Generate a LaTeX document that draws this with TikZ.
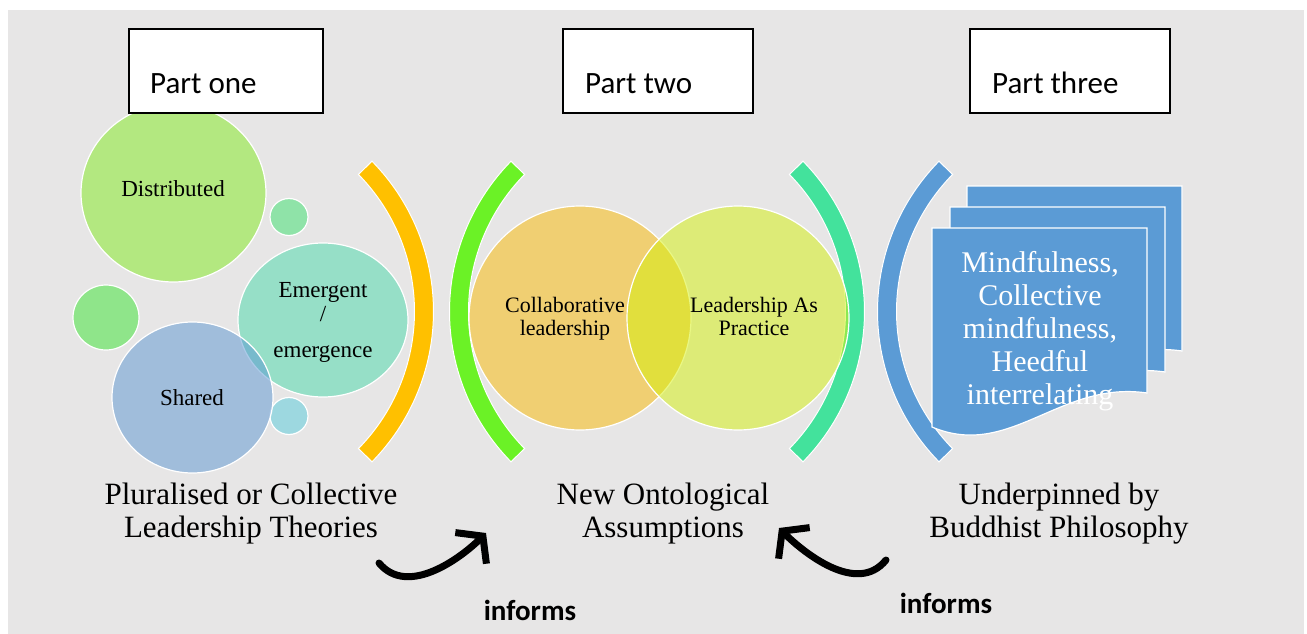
\documentclass[tikz,border=0pt]{standalone}
\usepackage{fontspec}
\setmainfont{Liberation Serif}
\newfontfamily\boxfont{Carlito}
\usetikzlibrary{shapes.geometric,arrows.meta}

\definecolor{canvasgray}{HTML}{E7E6E6}
\definecolor{distgreen}{HTML}{B3E880}
\definecolor{smallmint}{HTML}{8FE3A8}
\definecolor{smallgreen}{HTML}{8FE58A}
\definecolor{smallcyan}{HTML}{9DD8E0}
\definecolor{emergteal}{HTML}{46DAAA}
\definecolor{sharedblue}{HTML}{5A96D2}
\definecolor{collabamber}{HTML}{FABA00}
\definecolor{lapyellow}{HTML}{D4F00A}
\definecolor{arcyellow}{HTML}{FFC000}
\definecolor{arcgreen}{HTML}{6BF226}
\definecolor{arcteal}{HTML}{43E29C}
\definecolor{docblue}{HTML}{5B9BD5}

% a thick bracket-shaped arc: centre x, centre y, start angle, end angle, colour
\newcommand\bracearc[5]{%
  \filldraw[bracketarc,fill=#5]
    plot[domain=#3:#4,samples=60] ({#1+214.5*cos(\x)},{#2+214.5*sin(\x)})
    -- plot[domain=#4:#3,samples=60] ({#1+195.5*cos(\x)},{#2+195.5*sin(\x)})
    -- cycle;}

\begin{document}
\begin{tikzpicture}[x=1pt,y=-1pt,
  bubble/.style={ellipse,draw=white,line width=1.2pt,inner sep=0pt,outer sep=0pt},
  bracketarc/.style={draw=white,line width=1pt},
  docpage/.style={fill=docblue,draw=white,line width=1.2pt},
  partbox/.style={rectangle,draw=black,line width=1.4pt,fill=white,inner sep=0pt,
    minimum height=84pt},
  boxlabel/.style={anchor=base west,inner sep=0pt,font=\boxfont\fontsize{31}{37}\selectfont},
  bubbletext/.style={anchor=base,inner sep=0pt,font=\fontsize{23}{26}\selectfont},
  venntext/.style={align=center,inner sep=0pt,font=\fontsize{22}{23}\selectfont},
  caption/.style={align=center,inner sep=0pt,font=\fontsize{31}{33}\selectfont},
  doctext/.style={align=center,text=white,inner sep=0pt,font=\fontsize{30}{33}\selectfont},
  informs/.style={anchor=base,inner sep=0pt,font=\boxfont\bfseries\fontsize{29}{34}\selectfont},
  informarrow/.style={line width=7pt,line cap=round,-{Straight Barb[length=17pt,width=44pt]}}
]
\useasboundingbox (0,0) rectangle (1307,634);
\fill[white] (0,0) rectangle (1307,634);
\fill[canvasgray] (8,10) rectangle (1304,634);

% ---- part one: bubbles of collective leadership
\node[bubble,fill=distgreen,minimum width=185pt,minimum height=178pt] (dist) at (173.5,193) {};
\node[bubble,fill=smallmint,minimum width=38pt,minimum height=37pt] (dot1) at (289,217) {};
\node[bubble,fill=smallgreen,minimum width=66pt,minimum height=65pt] (dot2) at (106,317.5) {};
\node[bubble,fill=smallcyan,minimum width=38pt,minimum height=37pt] (dot3) at (289,416) {};
\node[bubble,fill=emergteal,fill opacity=0.5,minimum width=170pt,minimum height=154pt] (emerg) at (323,320) {};
\node[bubble,fill=sharedblue,fill opacity=0.5,minimum width=161pt,minimum height=151pt] (shared) at (192.5,397.5) {};

\node[bubbletext] (distlbl) at (173,196) {Distributed};
\node[bubbletext] (emerglbl) at (323,297) {Emergent};
\node[bubbletext] (slashlbl) at (323,321) {/};
\node[bubbletext] (emerglbl2) at (323,357) {emergence};
\node[bubbletext] (sharedlbl) at (192,405) {Shared};

% ---- brackets
\bracearc{219}{311.5}{-44.5}{44.5}{arcyellow}
\bracearc{664}{311.5}{135.5}{224.5}{arcgreen}
\bracearc{650}{311.5}{-44.5}{44.5}{arcteal}
\bracearc{1092}{311.5}{135.5}{224.5}{docblue}

% ---- part two: Venn pair
\node[bubble,fill=collabamber,fill opacity=0.5,minimum width=222pt,minimum height=224pt] (collab) at (580,318) {};
\node[bubble,fill=lapyellow,fill opacity=0.5,minimum width=222pt,minimum height=224pt] (lap) at (738,318) {};
\node[venntext] (collablbl) at (565,319) {Collaborative\\leadership};
\node[venntext] (laplbl) at (754,316.5) {Leadership As\\Practice};

% ---- part three: stacked pages
\begin{scope}[shift={(35,-42)}]
  \path[docpage] (932,228) -- (1147,228) -- (1147,393) .. controls (1060,380) and (1010,460) .. (932,427) -- cycle;
\end{scope}
\begin{scope}[shift={(18,-21)}]
  \path[docpage] (932,228) -- (1147,228) -- (1147,393) .. controls (1060,380) and (1010,460) .. (932,427) -- cycle;
\end{scope}
\path[docpage] (932,228) -- (1147,228) -- (1147,393) .. controls (1060,380) and (1010,460) .. (932,427) -- cycle;
\node[doctext] (mindtext) at (1040,331) {Mindfulness,\\Collective\\mindfulness,\\Heedful\\interrelating};

% ---- part headings
\node[partbox,minimum width=194pt] (part1) at (226,71) {};
\node[partbox,minimum width=190pt] (part2) at (658,71) {};
\node[partbox,minimum width=200pt] (part3) at (1070,71) {};
\node[boxlabel] (part1lbl) at (150,94) {Part one};
\node[boxlabel] (part2lbl) at (585,94) {Part two};
\node[boxlabel] (part3lbl) at (992,94) {Part three};

% ---- captions
\node[caption] (cap1) at (251,514) {Pluralised or Collective\\Leadership Theories};
\node[caption] (cap2) at (663,514) {New Ontological\\Assumptions};
\node[caption] (cap3) at (1059,514) {Underpinned by\\Buddhist Philosophy};

% ---- informs arrows
\coordinate (a1tail) at (379,563);
\coordinate (a1tip) at (486,533);
\coordinate (a2tail) at (886,560);
\coordinate (a2tip) at (779,528);
\draw[informarrow] (a1tail) .. controls (408,598) and (462,557) .. (a1tip);
\draw[informarrow] (a2tail) .. controls (857,596) and (803,552) .. (a2tip);
\node[informs] (inf1) at (530,620) {informs};
\node[informs] (inf2) at (946,613) {informs};
\end{tikzpicture}
\end{document}
